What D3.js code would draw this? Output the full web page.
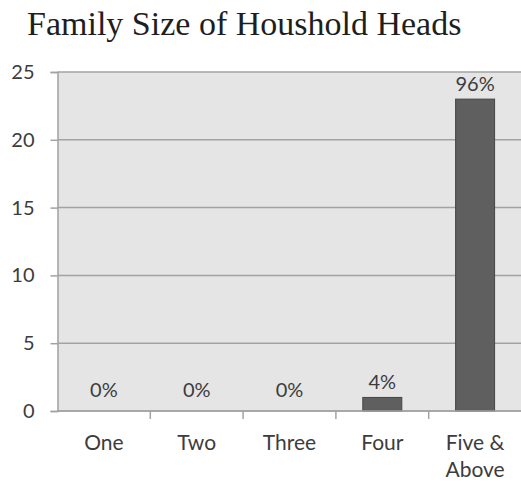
<!DOCTYPE html>
<html>
<head>
<meta charset="utf-8">
<script src="https://cdn.jsdelivr.net/npm/d3@7"></script>
<style>
  html, body { margin: 0; padding: 0; background: #ffffff; }
  svg { display: block; }
</style>
</head>
<body>
<svg id="chart" width="521" height="483"></svg>
<script>
// Household heads by family size
const categories = ["One", "Two", "Three", "Four", "Five & Above"];
const counts = [0, 0, 0, 1, 23];
const shareLabels = ["0%", "0%", "0%", "4%", "96%"];
const yTicks = [0, 5, 10, 15, 20, 25];
const title = "Family Size of Houshold Heads";

const svg = d3.select("#chart");
const plot = { left: 57.5, right: 521.5, top: 72, bottom: 411 };

const x = d3.scaleBand()
  .domain(categories)
  .range([plot.left, plot.right])
  .paddingInner(0).paddingOuter(0);

const y = d3.scaleLinear()
  .domain([0, 25])
  .range([plot.bottom, plot.top]);

const axisFont = "Lato, 'Open Sans', sans-serif";
const textColor = "#3c3c3c";
const gridColor = "#a3a3a3";

// title
svg.append("text")
  .attr("x", 27)
  .attr("y", 35)
  .attr("font-family", "'Liberation Serif', 'Times New Roman', serif")
  .attr("font-size", 34)
  .attr("fill", "#1e1e1e")
  .text(title);

// plot background
svg.append("rect")
  .attr("x", plot.left)
  .attr("y", plot.top)
  .attr("width", plot.right - plot.left)
  .attr("height", plot.bottom - plot.top)
  .attr("fill", "#e5e5e5");

// y axis
const yAxis = d3.axisLeft(y)
  .tickValues(yTicks)
  .tickSize(7)
  .tickPadding(16)
  .tickFormat(d3.format("d"));

const gy = svg.append("g")
  .attr("transform", `translate(${plot.left},0)`)
  .call(yAxis);
gy.select(".domain").attr("stroke", gridColor).attr("stroke-width", 1.5);
gy.selectAll(".tick line").attr("stroke", gridColor).attr("stroke-width", 1.5);
gy.selectAll(".tick text")
  .attr("font-family", axisFont)
  .attr("font-size", 20)
  .attr("fill", textColor);

// horizontal gridlines
svg.append("g")
  .selectAll("line")
  .data(yTicks)
  .join("line")
  .attr("x1", plot.left)
  .attr("x2", plot.right)
  .attr("y1", d => y(d))
  .attr("y2", d => y(d))
  .attr("stroke", gridColor)
  .attr("stroke-width", 1.5);

const rows = categories.map((c, i) => ({ c, v: counts[i], label: shareLabels[i] }));

// bars
const barW = x.bandwidth() * 0.42;
svg.append("g")
  .selectAll("rect")
  .data(rows)
  .join("rect")
  .attr("x", d => x(d.c) + (x.bandwidth() - barW) / 2)
  .attr("y", d => y(d.v))
  .attr("width", barW)
  .attr("height", d => y(0) - y(d.v))
  .attr("fill", "#5f5f5f")
  .attr("stroke", "#444444")
  .attr("stroke-width", 1);

// category axis line and separator ticks
svg.append("line")
  .attr("x1", plot.left).attr("x2", plot.right)
  .attr("y1", y(0)).attr("y2", y(0))
  .attr("stroke", gridColor).attr("stroke-width", 1.5);

svg.append("g")
  .selectAll("line")
  .data(categories.slice(1))
  .join("line")
  .attr("x1", d => x(d))
  .attr("x2", d => x(d))
  .attr("y1", y(0))
  .attr("y2", y(0) + 8)
  .attr("stroke", gridColor)
  .attr("stroke-width", 1.5);

// category labels, wrapped after the ampersand
const catLines = c => c.includes("&")
  ? [c.slice(0, c.indexOf("&") + 1), c.slice(c.indexOf("&") + 1).trim()]
  : [c];
const catText = svg.append("g")
  .selectAll("text")
  .data(categories)
  .join("text")
  .attr("x", d => x(d) + x.bandwidth() / 2)
  .attr("y", 450)
  .attr("text-anchor", "middle")
  .attr("font-family", axisFont)
  .attr("font-size", 21)
  .attr("fill", textColor);
catText.selectAll("tspan")
  .data(d => catLines(d).map((t, i) => ({ t, i, cx: x(d) + x.bandwidth() / 2 })))
  .join("tspan")
  .attr("x", d => d.cx)
  .attr("dy", d => d.i === 0 ? 0 : 27)
  .text(d => d.t);

// value labels above bars
svg.append("g")
  .selectAll("text")
  .data(rows)
  .join("text")
  .attr("x", d => x(d.c) + x.bandwidth() / 2)
  .attr("y", d => Math.min(y(d.v) - 8, y(0) - 14))
  .attr("text-anchor", "middle")
  .attr("font-family", axisFont)
  .attr("font-size", 20)
  .attr("fill", textColor)
  .text(d => d.label);
</script>
</body>
</html>
